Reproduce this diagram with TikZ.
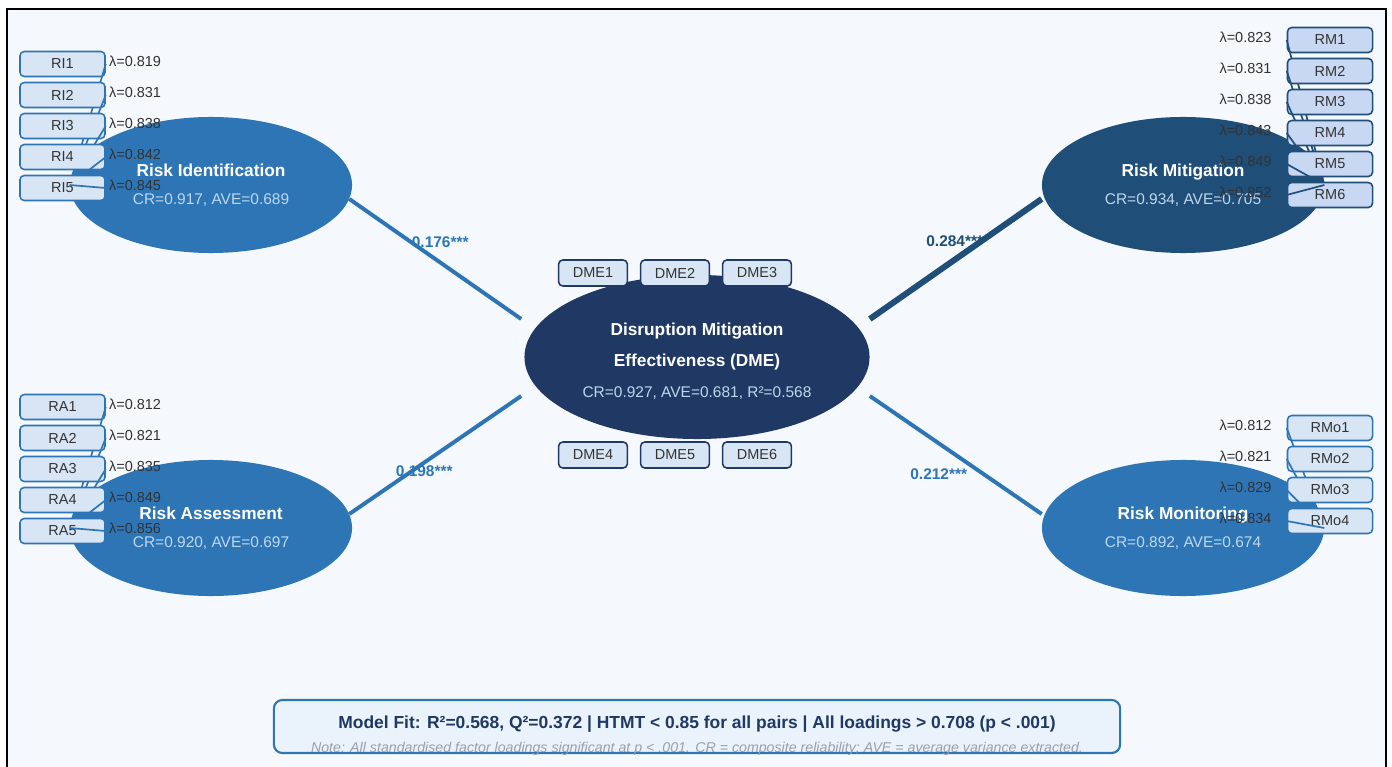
\documentclass[tikz,border=0pt]{standalone}
\usepackage{fontspec}
\setmainfont{Liberation Sans}
\usetikzlibrary{calc, positioning, shapes.geometric}
\definecolor{midblue}{HTML}{2E75B6}
\definecolor{deepblue}{HTML}{1F4E79}
\definecolor{navy}{HTML}{1F3864}
\definecolor{paleblue}{HTML}{BDD7EE}
\definecolor{boxfill}{HTML}{D8E5F5}
\definecolor{rmfill}{HTML}{C8D8F2}
\definecolor{bgfill}{HTML}{F5F9FD}
\definecolor{notefill}{HTML}{EAF2FB}
\definecolor{inktext}{HTML}{333333}
\definecolor{notegray}{HTML}{9AA0A8}
\newcommand\titlef{\color{white}\bfseries\fontsize{12.3}{15}\selectfont}
\newcommand\subf{\color{paleblue}\fontsize{11}{14}\selectfont}

\begin{document}
\begin{tikzpicture}[x=0.025cm, y=-0.025cm,
  latent/.style={ellipse, fill=#1, inner sep=0pt, minimum width=7.05cm, minimum height=3.4cm, align=center, font=\fontsize{11}{14}\selectfont},
  ind/.style={draw=#1, fill=boxfill, rounded corners=3pt, line width=1.1pt, minimum width=2.125cm, minimum height=0.625cm, inner sep=0pt, text=inktext, font=\fontsize{10.3}{12}\selectfont},
  lam/.style={text=inktext, inner sep=0pt, font=\fontsize{10.3}{12}\selectfont},
  load/.style={line width=1.2pt},
  coef/.style={font=\bfseries\fontsize{11}{13}\selectfont, inner sep=1pt}]
\useasboundingbox (0,0) rectangle (1392,767);
\draw[line width=1.8pt, fill=bgfill] (7,9) rectangle (1386,800);

% constructs
\node[latent=midblue] (ri) at (211,185) {{\titlef Risk Identification}\\[6pt]{\subf CR=0.917, AVE=0.689}};
\node[latent=midblue] (ra) at (211,528) {{\titlef Risk Assessment}\\[6pt]{\subf CR=0.920, AVE=0.697}};
\node[latent=deepblue] (rm) at (1183,185) {{\titlef Risk Mitigation}\\[6pt]{\subf CR=0.934, AVE=0.705}};
\node[latent=midblue] (rmo) at (1183,528) {{\titlef Risk Monitoring}\\[6pt]{\subf CR=0.892, AVE=0.674}};
\node[latent=navy, minimum width=8.625cm, minimum height=4.1cm] (dme) at (697,357)
  {{\titlef\rule{0pt}{15pt}Disruption Mitigation}\\[8pt]{\titlef Effectiveness (DME)}\\[8pt]{\subf CR=0.927, AVE=0.681, R²=0.568}};

% structural paths
\draw[midblue, line width=2.8pt] ($(ri.east)+(-3,14)$) -- node[coef, text=midblue, shift={(5,-17)}] {0.176***} ($(dme.west)+(-3,-38)$);
\draw[midblue, line width=2.8pt] ($(ra.east)+(-3,-14)$) -- node[coef, text=midblue, shift={(-11,16)}] {0.198***} ($(dme.west)+(-3,39)$);
\draw[deepblue, line width=4.3pt] ($(dme.east)+(0,-38)$) -- node[coef, text=deepblue, shift={(-1,-18)}] {0.284***} ($(rm.west)+(0,14)$);
\draw[midblue, line width=2.8pt] ($(dme.east)+(0,39)$) -- node[coef, text=midblue, shift={(-17,19)}] {0.212***} ($(rmo.west)+(0,-14)$);

% indicators
\foreach \i/\lam in {1/0.819,2/0.831,3/0.838,4/0.842,5/0.845}{
  \node[ind=midblue] (RI\i) at (62.5,33+31*\i) {RI\i};
  \draw[load, midblue] (RI\i.east) -- (ri.west);
  \node[lam, anchor=west] (lRI\i) at ($(RI\i.east)+(3,-3)$) {λ=\lam};
}
\foreach \i/\lam in {1/0.812,2/0.821,3/0.835,4/0.849,5/0.856}{
  \node[ind=midblue] (RA\i) at (62.5,376+31*\i) {RA\i};
  \draw[load, midblue] (RA\i.east) -- (ra.west);
  \node[lam, anchor=west] (lRA\i) at ($(RA\i.east)+(3,-3)$) {λ=\lam};
}
\foreach \i/\lam in {1/0.823,2/0.831,3/0.838,4/0.843,5/0.849,6/0.852}{
  \node[ind=deepblue, fill=rmfill] (RM\i) at (1330,9+31*\i) {RM\i};
  \draw[load, deepblue] (RM\i.west) -- (rm.east);
  \node[lam, anchor=east] (lRM\i) at ($(RM\i.west)+(-15,-3)$) {λ=\lam};
}
\foreach \i/\lam in {1/0.812,2/0.821,3/0.829,4/0.834}{
  \node[ind=midblue] (RMo\i) at (1330,397+31*\i) {RMo\i};
  \draw[load, midblue] (RMo\i.west) -- (rmo.east);
  \node[lam, anchor=east] (lRMo\i) at ($(RMo\i.west)+(-15,-3)$) {λ=\lam};
}
\foreach \i/\x in {1/593,2/675,3/757}{
  \node[ind=navy, minimum width=1.72cm, minimum height=0.65cm] (DME\i) at (\x,273) {DME\i};
}
\foreach \i/\x in {4/593,5/675,6/757}{
  \node[ind=navy, minimum width=1.72cm, minimum height=0.65cm] (DME\i) at (\x,455) {DME\i};
}

% fit summary
\node[draw=midblue, fill=notefill, line width=1.5pt, rounded corners=6pt, minimum width=21.15cm, minimum height=1.325cm] (fit) at (697,726.5) {};
\node[text=navy, font=\bfseries\fontsize{12.4}{14}\selectfont] (fittext) at (697,724)
  {Model Fit: R²=0.568, Q²=0.372 | HTMT < 0.85 for all pairs | All loadings > 0.708 (p < .001)};
\node[text=notegray, font=\itshape\fontsize{10.1}{12}\selectfont] (note) at (697,749)
  {Note: All standardised factor loadings significant at p < .001. CR = composite reliability; AVE = average variance extracted.};
\end{tikzpicture}
\end{document}
